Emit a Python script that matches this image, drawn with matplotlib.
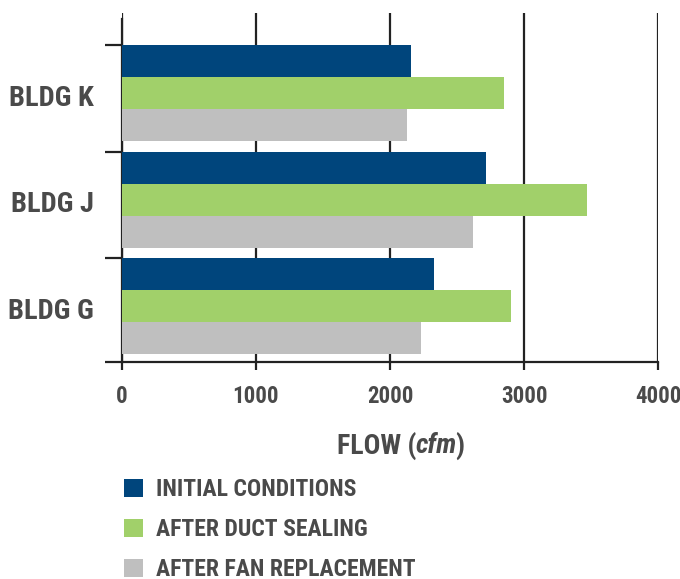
import matplotlib
matplotlib.use("Agg")
import matplotlib.pyplot as plt
import numpy as np
from matplotlib.patches import Patch
from matplotlib.offsetbox import AnchoredOffsetbox, HPacker, TextArea

# data
buildings = ["BLDG G", "BLDG J", "BLDG K"]
initial = [2330, 2715, 2160]
duct_sealing = [2905, 3470, 2850]
fan_replacement = [2230, 2620, 2130]
series_labels = ["INITIAL CONDITIONS", "AFTER DUCT SEALING", "AFTER FAN REPLACEMENT"]
x_ticks = [0, 1000, 2000, 3000, 4000]

colors = ["#00457c", "#a1d06a", "#bfbfbf"]
text_color = "#4a4a4a"
line_color = "#222222"

plt.rcParams["font.family"] = ["Roboto Condensed", "Archivo Narrow", "DejaVu Sans"]
plt.rcParams["font.weight"] = "bold"

fig = plt.figure(figsize=(6.8, 5.79), dpi=100)
ax = fig.add_axes([0.179, 0.375, 0.789, 0.602])

bar_h = 0.3
base = np.arange(len(buildings))  # bottom of each group slot
all_series = [initial, duct_sealing, fan_replacement]
for i, (vals, col) in enumerate(zip(all_series, colors)):
    # first series sits at the top of the group
    y = base + 1 - bar_h * (i + 0.5)
    ax.barh(y, vals, height=bar_h, color=col, zorder=3, linewidth=0)

ax.set_xlim(0, 4000)
ax.set_ylim(0.03, 3.3)

# grid lines at every 1000
ax.set_xticks(x_ticks)
ax.set_xticklabels([str(v) for v in x_ticks])
ax.grid(axis="x", color=line_color, linewidth=1.6, zorder=1)
ax.grid(axis="y", visible=False)

# group boundary ticks on the y axis, labels at group centres
ax.set_yticks([0.03, 1, 2, 3])
ax.set_yticklabels([])
ax.set_yticks(base + 0.53, minor=True)
ax.set_yticklabels(buildings, minor=True)
ax.tick_params(axis="y", which="major", direction="out", length=12,
               width=1.6, color=line_color)
ax.tick_params(axis="y", which="minor", length=0, pad=20,
               labelsize=20.5, labelcolor=text_color)
ax.tick_params(axis="x", direction="out", length=6, width=1.6,
               color=line_color, pad=11, labelsize=16.5, labelcolor=text_color)

for side in ["top", "right"]:
    ax.spines[side].set_visible(False)
for side in ["left", "bottom"]:
    ax.spines[side].set_color(line_color)
    ax.spines[side].set_linewidth(1.6)
ax.spines["left"].set_bounds(0.03, 3.25)

# x label with italic unit, built from three text pieces
lbl = dict(size=20, color=text_color, weight="bold")
parts = [TextArea("FLOW (", textprops=lbl),
         TextArea("cfm", textprops=dict(lbl, style="italic")),
         TextArea(")", textprops=lbl)]
xlabel_box = AnchoredOffsetbox(loc="center",
                               child=HPacker(children=parts, pad=0, sep=-1),
                               frameon=False, bbox_to_anchor=(0.52, -0.24),
                               bbox_transform=ax.transAxes, borderpad=0)
ax.add_artist(xlabel_box)

handles = [Patch(facecolor=c, edgecolor="none") for c in colors]
leg = fig.legend(handles, series_labels, loc="upper left",
                 bbox_to_anchor=(0.168, 0.19), frameon=False,
                 fontsize=17, handlelength=0.8, handleheight=0.8,
                 handletextpad=0.55, labelspacing=0.72, borderaxespad=0)
for t in leg.get_texts():
    t.set_color(text_color)

fig.savefig("out.png", dpi=100)
